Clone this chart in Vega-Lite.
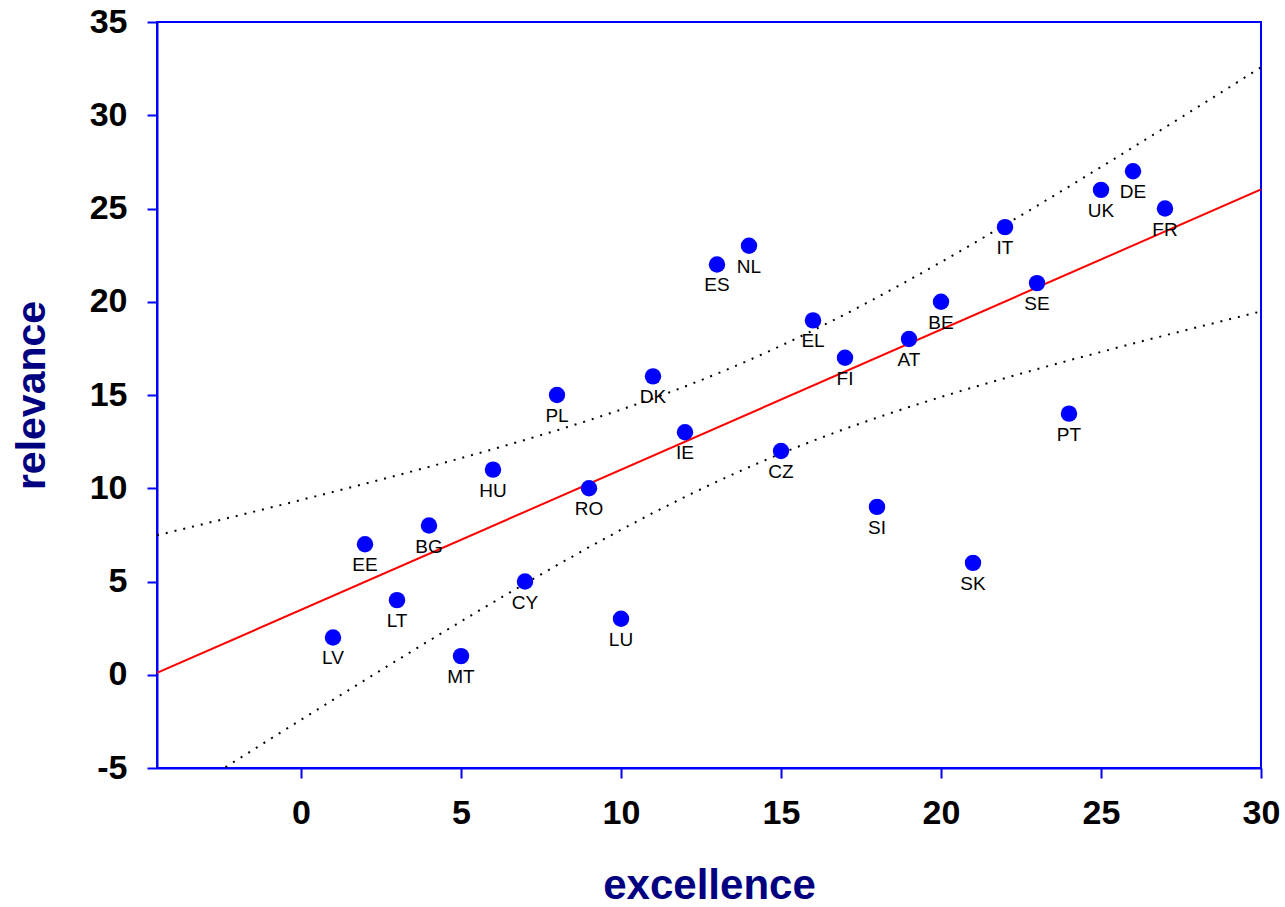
{
  "$schema": "https://vega.github.io/schema/vega-lite/v6.json",
  "autosize": "none",
  "width": 1104,
  "height": 746,
  "padding": {"left": 157, "top": 22, "right": 24, "bottom": 139},
  "background": "white",
  "config": {
    "view": {"stroke": "#0000FF", "strokeWidth": 2},
    "font": "Liberation Sans"
  },
  "datasets": {
    "points": [
      {"code": "LV", "excellence": 1, "relevance": 2},
      {"code": "EE", "excellence": 2, "relevance": 7},
      {"code": "LT", "excellence": 3, "relevance": 4},
      {"code": "BG", "excellence": 4, "relevance": 8},
      {"code": "MT", "excellence": 5, "relevance": 1},
      {"code": "HU", "excellence": 6, "relevance": 11},
      {"code": "CY", "excellence": 7, "relevance": 5},
      {"code": "PL", "excellence": 8, "relevance": 15},
      {"code": "RO", "excellence": 9, "relevance": 10},
      {"code": "LU", "excellence": 10, "relevance": 3},
      {"code": "DK", "excellence": 11, "relevance": 16},
      {"code": "IE", "excellence": 12, "relevance": 13},
      {"code": "ES", "excellence": 13, "relevance": 22},
      {"code": "NL", "excellence": 14, "relevance": 23},
      {"code": "CZ", "excellence": 15, "relevance": 12},
      {"code": "EL", "excellence": 16, "relevance": 19},
      {"code": "FI", "excellence": 17, "relevance": 17},
      {"code": "SI", "excellence": 18, "relevance": 9},
      {"code": "AT", "excellence": 19, "relevance": 18},
      {"code": "BE", "excellence": 20, "relevance": 20},
      {"code": "SK", "excellence": 21, "relevance": 6},
      {"code": "IT", "excellence": 22, "relevance": 24},
      {"code": "SE", "excellence": 23, "relevance": 21},
      {"code": "PT", "excellence": 24, "relevance": 14},
      {"code": "UK", "excellence": 25, "relevance": 26},
      {"code": "DE", "excellence": 26, "relevance": 27},
      {"code": "FR", "excellence": 27, "relevance": 25}
    ],
    "fit": [
      {"x": -4.5, "y": 0.097},
      {"x": 30, "y": 26.024}
    ],
    "band": [
      {"x": -4.5, "upper": 7.479, "lower": -7.285},
      {"x": -4, "upper": 7.685, "lower": -6.741},
      {"x": -3, "upper": 8.101, "lower": -5.653},
      {"x": -2, "upper": 8.520, "lower": -4.569},
      {"x": -1, "upper": 8.943, "lower": -3.489},
      {"x": 0, "upper": 9.371, "lower": -2.413},
      {"x": 1, "upper": 9.804, "lower": -1.343},
      {"x": 2, "upper": 10.243, "lower": -0.280},
      {"x": 3, "upper": 10.690, "lower": 0.776},
      {"x": 4, "upper": 11.146, "lower": 1.823},
      {"x": 5, "upper": 11.614, "lower": 2.859},
      {"x": 6, "upper": 12.094, "lower": 3.881},
      {"x": 7, "upper": 12.591, "lower": 4.888},
      {"x": 8, "upper": 13.107, "lower": 5.875},
      {"x": 9, "upper": 13.646, "lower": 6.838},
      {"x": 10, "upper": 14.214, "lower": 7.774},
      {"x": 11, "upper": 14.815, "lower": 8.676},
      {"x": 12, "upper": 15.454, "lower": 9.539},
      {"x": 13, "upper": 16.137, "lower": 10.360},
      {"x": 14, "upper": 16.865, "lower": 11.135},
      {"x": 15, "upper": 17.640, "lower": 11.863},
      {"x": 16, "upper": 18.461, "lower": 12.546},
      {"x": 17, "upper": 19.324, "lower": 13.185},
      {"x": 18, "upper": 20.226, "lower": 13.786},
      {"x": 19, "upper": 21.162, "lower": 14.354},
      {"x": 20, "upper": 22.125, "lower": 14.893},
      {"x": 21, "upper": 23.112, "lower": 15.409},
      {"x": 22, "upper": 24.119, "lower": 15.906},
      {"x": 23, "upper": 25.141, "lower": 16.386},
      {"x": 24, "upper": 26.177, "lower": 16.854},
      {"x": 25, "upper": 27.224, "lower": 17.310},
      {"x": 26, "upper": 28.280, "lower": 17.757},
      {"x": 27, "upper": 29.343, "lower": 18.196},
      {"x": 28, "upper": 30.413, "lower": 18.629},
      {"x": 29, "upper": 31.489, "lower": 19.057},
      {"x": 30, "upper": 32.569, "lower": 19.480}
    ]
  },
  "layer": [
    {
      "data": {"name": "band"},
      "mark": {"type": "line", "color": "black", "strokeWidth": 2, "strokeDash": [2, 7], "clip": true},
      "encoding": {
        "x": {"field": "x", "type": "quantitative", "scale": {"domain": [-4.5, 30], "nice": false, "zero": false},
          "axis": {
            "title": "excellence",
            "values": [0, 5, 10, 15, 20, 25, 30],
            "labelExpr": "toString(datum.value)",
            "grid": false,
            "domainColor": "#0000FF", "domainWidth": 2,
            "tickColor": "#0000FF", "tickWidth": 2, "tickSize": 10,
            "labelFont": "Liberation Sans", "labelFontSize": 34, "labelFontWeight": "bold", "labelColor": "black",
            "labelPadding": 18, "labelFlush": false,
            "titleFont": "Liberation Sans", "titleFontSize": 42, "titleFontWeight": "bold", "titleColor": "#000080",
            "titlePadding": 35
          }
        },
        "y": {"field": "upper", "type": "quantitative", "scale": {"domain": [-5, 35], "nice": false, "zero": false},
          "axis": {
            "title": "relevance",
            "values": [-5, 0, 5, 10, 15, 20, 25, 30, 35],
            "labelExpr": "toString(datum.value)",
            "grid": false,
            "domainColor": "#0000FF", "domainWidth": 2,
            "tickColor": "#0000FF", "tickWidth": 2, "tickSize": 10,
            "labelFont": "Liberation Sans", "labelFontSize": 34, "labelFontWeight": "bold", "labelColor": "black",
            "labelPadding": 20, "labelFlush": false,
            "titleFont": "Liberation Sans", "titleFontSize": 41, "titleFontWeight": "bold", "titleColor": "#000080",
            "titlePadding": 36
          }
        }
      }
    },
    {
      "data": {"name": "band"},
      "mark": {"type": "line", "color": "black", "strokeWidth": 2, "strokeDash": [2, 7], "clip": true},
      "encoding": {
        "x": {"field": "x", "type": "quantitative"},
        "y": {"field": "lower", "type": "quantitative"}
      }
    },
    {
      "data": {"name": "fit"},
      "mark": {"type": "line", "color": "#FF0000", "strokeWidth": 2, "clip": true},
      "encoding": {
        "x": {"field": "x", "type": "quantitative"},
        "y": {"field": "y", "type": "quantitative"}
      }
    },
    {
      "data": {"name": "points"},
      "mark": {"type": "point", "shape": "circle", "filled": true, "color": "#0000FF", "size": 270, "opacity": 1},
      "encoding": {
        "x": {"field": "excellence", "type": "quantitative"},
        "y": {"field": "relevance", "type": "quantitative"}
      }
    },
    {
      "data": {"name": "points"},
      "mark": {"type": "text", "font": "Liberation Sans", "fontSize": 19, "color": "black", "baseline": "alphabetic", "align": "center", "dy": 27},
      "encoding": {
        "x": {"field": "excellence", "type": "quantitative"},
        "y": {"field": "relevance", "type": "quantitative"},
        "text": {"field": "code", "type": "nominal"}
      }
    }
  ]
}
